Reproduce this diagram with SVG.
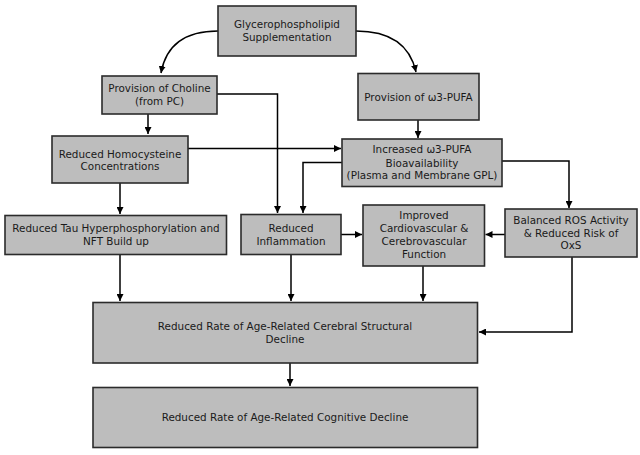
<svg xmlns="http://www.w3.org/2000/svg" width="640" height="455" viewBox="0 0 640 455">
<style>
.box{fill:#bdbdbd;stroke:#2b2b2b;stroke-width:1.6}
text{font-family:"DejaVu Sans",Verdana,sans-serif;font-size:10.4px;fill:#1a1a1a;text-anchor:middle}
.c{fill:none;stroke:#000;stroke-width:1.5;marker-end:url(#ah)}
</style>
<defs>
<marker id="ah" viewBox="0 0 10 10" refX="10" refY="5" markerWidth="7" markerHeight="7" markerUnits="userSpaceOnUse" orient="auto">
<path d="M0,0 L10,5 L0,10 z" fill="#000"/>
</marker>
</defs>
<rect width="640" height="455" fill="#fff"/>
<g id="connectors">
<path class="c" d="M218,31 C185,31 166,45 161,73"/>
<path class="c" d="M356,31 C390,31 410,45 416,72"/>
<path class="c" d="M148,114 V134"/>
<path class="c" d="M217,94 H277.5 V213"/>
<path class="c" d="M418,120 V138"/>
<path class="c" d="M188,148.5 H341"/>
<path class="c" d="M120,183 V214"/>
<path class="c" d="M342,162.5 H303 V213"/>
<path class="c" d="M502,161 H569 V208"/>
<path class="c" d="M341,234.5 H362"/>
<path class="c" d="M505,234.5 H485.5"/>
<path class="c" d="M120,254.5 V301"/>
<path class="c" d="M291,254.5 V301"/>
<path class="c" d="M423,266 V301"/>
<path class="c" d="M572,257 V332 H479"/>
<path class="c" d="M290,363 V386"/>
</g>
<g id="n1"><rect class="box" x="218" y="6" width="138" height="50"/><text x="287" y="28">Glycerophospholipid</text><text x="287" y="41">Supplementation</text></g>
<g id="n2"><rect class="box" x="102" y="76" width="115" height="38"/><text x="159.5" y="92">Provision of Choline</text><text x="159.5" y="105">(from PC)</text></g>
<g id="n3"><rect class="box" x="358" y="73.5" width="121" height="46.5"/><text x="418.5" y="100.5">Provision of ω3-PUFA</text></g>
<g id="n4"><rect class="box" x="52" y="136" width="136" height="47"/><text x="120" y="157.5">Reduced Homocysteine</text><text x="120" y="170">Concentrations</text></g>
<g id="n5"><rect class="box" x="342" y="139" width="160" height="47.5"/><text x="422" y="153">Increased ω3-PUFA</text><text x="422" y="166.5">Bioavailability</text><text x="422" y="179">(Plasma and Membrane GPL)</text></g>
<g id="n6"><rect class="box" x="5" y="215.5" width="221.5" height="39"/><text x="116" y="232">Reduced Tau Hyperphosphorylation and</text><text x="116" y="245">NFT Build up</text></g>
<g id="n7"><rect class="box" x="241" y="214.5" width="100" height="40"/><text x="291" y="232">Reduced</text><text x="291" y="245">Inflammation</text></g>
<g id="n8"><rect class="box" x="363" y="205" width="121.5" height="61"/><text x="424" y="219">Improved</text><text x="424" y="232">Cardiovascular &amp;</text><text x="424" y="245">Cerebrovascular</text><text x="424" y="258">Function</text></g>
<g id="n9"><rect class="box" x="505" y="209" width="132" height="48"/><text x="571" y="224">Balanced ROS Activity</text><text x="571" y="236.5">&amp; Reduced Risk of</text><text x="571" y="249">OxS</text></g>
<g id="n10"><rect class="box" x="93" y="302.5" width="384.5" height="60.5"/><text x="285" y="329.5">Reduced Rate of Age-Related Cerebral Structural</text><text x="285" y="342.5">Decline</text></g>
<g id="n11"><rect class="box" x="93" y="387.5" width="384.5" height="60"/><text x="285" y="421">Reduced Rate of Age-Related Cognitive Decline</text></g>
</svg>
